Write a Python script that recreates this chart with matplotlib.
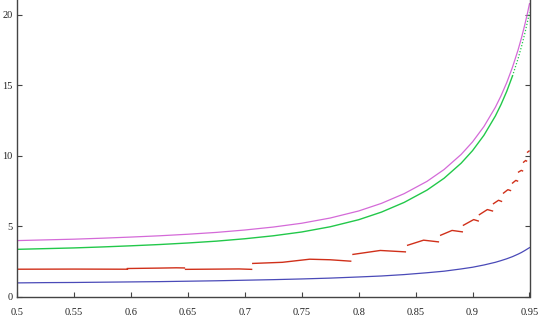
import numpy as np
import matplotlib
matplotlib.use("Agg")
import matplotlib.pyplot as plt

nan = float("nan")

x_grid = [0.5, 0.525, 0.55, 0.575, 0.6, 0.625, 0.65, 0.675, 0.7, 0.725,
          0.75, 0.775, 0.8, 0.82, 0.84, 0.86, 0.875, 0.89, 0.9, 0.91,
          0.92, 0.925, 0.93, 0.935, 0.94, 0.943, 0.946, 0.948, 0.95]
magenta_y = [4.00, 4.05, 4.10, 4.17, 4.25, 4.34, 4.45, 4.58, 4.75, 4.96,
             5.23, 5.60, 6.10, 6.64, 7.33, 8.20, 9.04, 10.11, 11.00, 12.09,
             13.45, 14.27, 15.20, 16.28, 17.53, 18.39, 19.35, 20.05, 20.80]
green_y = [3.38, 3.43, 3.48, 3.55, 3.63, 3.72, 3.83, 3.96, 4.13, 4.34,
           4.61, 4.98, 5.48, 6.02, 6.71, 7.58, 8.42, 9.49, 10.38, 11.47,
           12.83, 13.65, 14.58, 15.66, 16.91, 17.77, 18.73, 19.43, 20.18]
blue_y = [1.00, 1.02, 1.03, 1.05, 1.07, 1.09, 1.12, 1.15, 1.19, 1.23,
          1.28, 1.34, 1.42, 1.49, 1.59, 1.72, 1.83, 1.99, 2.11, 2.27,
          2.46, 2.58, 2.71, 2.86, 3.04, 3.16, 3.30, 3.40, 3.50]

# stepped (measured) series, segments separated by NaN
red_x = [0.500, 0.550, 0.597, nan,
         0.597, 0.625, 0.640, 0.647, nan,
         0.648, 0.680, 0.695, 0.706, nan,
         0.707, 0.733, 0.757, 0.775, 0.793, nan,
         0.795, 0.819, 0.841, nan,
         0.843, 0.857, 0.870, nan,
         0.872, 0.882, 0.891, nan,
         0.892, 0.901, 0.905, nan,
         0.906, 0.913, 0.9175, nan,
         0.9184, 0.9228, 0.9254, nan,
         0.9272, 0.931, 0.9333, nan,
         0.9351, 0.938, 0.9395, nan,
         0.9404, 0.9428, 0.9439, nan,
         0.9448, 0.9466, 0.9474, nan,
         0.9483, 0.9496]
red_y = [1.97, 1.98, 1.97, nan,
         2.02, 2.05, 2.07, 2.06, nan,
         1.96, 1.98, 1.99, 1.96, nan,
         2.38, 2.46, 2.68, 2.64, 2.54, nan,
         3.02, 3.30, 3.20, nan,
         3.67, 4.03, 3.91, nan,
         4.38, 4.72, 4.62, nan,
         5.09, 5.49, 5.39, nan,
         5.84, 6.20, 6.10, nan,
         6.62, 6.86, 6.78, nan,
         7.37, 7.61, 7.55, nan,
         8.08, 8.27, 8.22, nan,
         8.86, 8.98, 8.94, nan,
         9.56, 9.68, 9.64, nan,
         10.27, 10.35]

x_ticks = [0.5, 0.55, 0.6, 0.65, 0.7, 0.75, 0.8, 0.85, 0.9, 0.95]
x_tick_labels = ["0.5", "0.55", "0.6", "0.65", "0.7", "0.75", "0.8", "0.85", "0.9", "0.95"]
y_ticks = [0, 5, 10, 15, 20]
y_tick_labels = ["0", "5", "10", "15", "20"]

plt.rcParams["font.family"] = ["Liberation Serif", "DejaVu Serif"]

fig = plt.figure(figsize=(5.40, 3.18), dpi=100)
ax = fig.add_axes([17 / 540, 21 / 318, (529.5 - 17) / 540, 297 / 318])

ax.plot(x_grid, magenta_y, color="#d46ad8", lw=0.9)
xg = np.array(x_grid)
gy = np.array(green_y)
ax.plot(xg[xg <= 0.935], gy[xg <= 0.935], color="#22c84a", lw=1.0)
ax.plot(xg[xg >= 0.935], gy[xg >= 0.935], color="#22c84a", lw=0.9, ls=(0, (1, 1.5)))
ax.plot(x_grid, blue_y, color="#4a4ab8", lw=0.9)
ax.plot(red_x, red_y, color="#d0301a", lw=1.0)

ax.set_xlim(0.5, 0.95)
ax.set_ylim(0, 21.06)
ax.set_xticks(x_ticks)
ax.set_xticklabels(x_tick_labels)
ax.set_yticks(y_ticks)
ax.set_yticklabels(y_tick_labels)

for s in ["left", "right", "bottom"]:
    ax.spines[s].set_color("#444444")
    ax.spines[s].set_linewidth(1.0)
ax.spines["top"].set_visible(False)

ax.tick_params(axis="both", direction="in", length=3.5, width=0.8,
               color="#444444", labelsize=7.5, labelcolor="#222222")
ax.tick_params(axis="x", pad=8)
ax.tick_params(axis="y", pad=3, right=True)

fig.savefig("out.png", dpi=100)
